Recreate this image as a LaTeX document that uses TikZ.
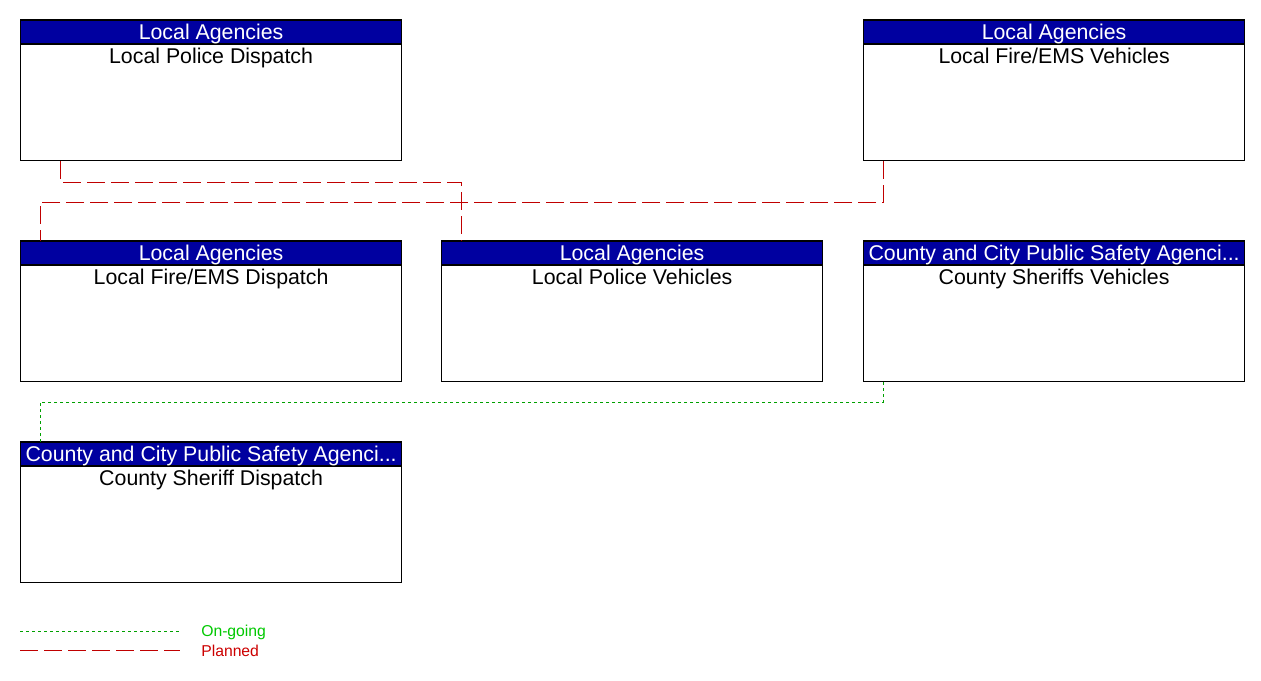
\documentclass[tikz,border=0pt]{standalone}
\usepackage{fontspec}
\setmainfont{Liberation Sans}
\usetikzlibrary{calc,positioning}
\definecolor{hdrblue}{RGB}{0,0,160}
\definecolor{planred}{RGB}{192,0,0}
\definecolor{ongreen}{RGB}{0,160,0}
\definecolor{keygreen}{RGB}{0,200,0}
\definecolor{keyred}{RGB}{204,0,0}
\tikzset{
  element/.style={draw, line width=0.9pt, anchor=north west, inner sep=0pt,
    minimum width=285.75pt, minimum height=105pt},
  header/.style={draw, line width=0.9pt, fill=hdrblue, inner sep=0pt,
    minimum width=285.75pt, minimum height=18pt},
  label/.style={inner sep=0pt, text height=11.5pt, text depth=3.4pt,
    font=\fontsize{16}{18}\selectfont},
  planned/.style={planred, line width=0.75pt, dash pattern=on 13.5pt off 4.5pt},
  ongoing/.style={ongreen, line width=0.75pt, dash pattern=on 2.25pt off 2.25pt},
  key/.style={anchor=west, inner sep=0pt, font=\fontsize{11.8}{14}\selectfont},
}

\begin{document}
\begin{tikzpicture}[x=0.75pt, y=-0.75pt]
  \useasboundingbox (0,0) rectangle (1261,681);

  % Elements
  \node[element] (lpd) at (20,20) {};
  \node[header] (lpd-h) at ($(lpd.north)+(0,12)$) {};
  \node[label, text=white] (lpd-s) at ($(lpd.north)+(0,14)$) {Local Agencies};
  \node[label] (lpd-t) at ($(lpd.north)+(0,38)$) {Local Police Dispatch};

  \node[element] (lfv) at (863,20) {};
  \node[header] (lfv-h) at ($(lfv.north)+(0,12)$) {};
  \node[label, text=white] (lfv-s) at ($(lfv.north)+(0,14)$) {Local Agencies};
  \node[label] (lfv-t) at ($(lfv.north)+(0,38)$) {Local Fire/EMS Vehicles};

  \node[element] (lfd) at (20,241) {};
  \node[header] (lfd-h) at ($(lfd.north)+(0,12)$) {};
  \node[label, text=white] (lfd-s) at ($(lfd.north)+(0,14)$) {Local Agencies};
  \node[label] (lfd-t) at ($(lfd.north)+(0,38)$) {Local Fire/EMS Dispatch};

  \node[element] (lpv) at (441,241) {};
  \node[header] (lpv-h) at ($(lpv.north)+(0,12)$) {};
  \node[label, text=white] (lpv-s) at ($(lpv.north)+(0,14)$) {Local Agencies};
  \node[label] (lpv-t) at ($(lpv.north)+(0,38)$) {Local Police Vehicles};

  \node[element] (csv) at (863,241) {};
  \node[header] (csv-h) at ($(csv.north)+(0,12)$) {};
  \node[label, text=white] (csv-s) at ($(csv.north)+(0,14)$) {County and City Public Safety Agenci...};
  \node[label] (csv-t) at ($(csv.north)+(0,38)$) {County Sheriffs Vehicles};

  \node[element] (csd) at (20,442) {};
  \node[header] (csd-h) at ($(csd.north)+(0,12)$) {};
  \node[label, text=white] (csd-s) at ($(csd.north)+(0,14)$) {County and City Public Safety Agenci...};
  \node[label] (csd-t) at ($(csd.north)+(0,38)$) {County Sheriff Dispatch};

  % Flows
  \draw[planned] ($(lpd.south west)+(40,0)$) -- ++(0,21) -| ($(lpv.north west)+(20,0)$);
  \draw[planned] ($(lfv.south west)+(20,0)$) -- ++(0,41) -| ($(lfd.north west)+(20,0)$);
  \draw[ongoing] ($(csv.south west)+(20,0)$) -- ++(0,20) -| ($(csd.north west)+(20,0)$);

  % Legend
  \coordinate (og-a) at (20,631);
  \coordinate (og-b) at (180,631);
  \coordinate (pl-a) at (20,650);
  \coordinate (pl-b) at (180,650);
  \draw[ongoing] (og-a) -- (og-b);
  \draw[planned] (pl-a) -- (pl-b);
  \node[key, text=keygreen] (og-t) at (201,632) {On-going};
  \node[key, text=keyred] (pl-t) at (201,651) {Planned};
\end{tikzpicture}
\end{document}
